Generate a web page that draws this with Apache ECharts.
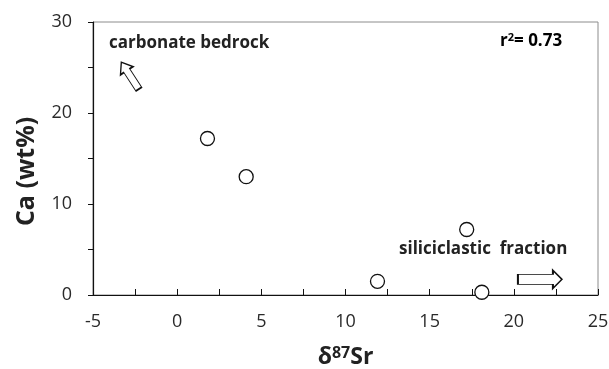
<!DOCTYPE html>
<html>
<head>
<meta charset="utf-8">
<script src="https://cdn.jsdelivr.net/npm/echarts@6/dist/echarts.min.js"></script>
<style>
  html, body { margin: 0; padding: 0; background: #fff; }
  #chart { width: 609px; height: 369px; }
</style>
</head>
<body>
<div id="chart"></div>
<script>
// Sr isotope excursion vs. calcium content of the samples
const srDelta = [1.8, 4.1, 11.9, 17.2, 18.1];
const caWt = [17.2, 13.0, 1.5, 7.2, 0.3];
const xTicks = { min: -5, max: 25, step: 5 };
const yTicks = { min: 0, max: 30, step: 10 };
const rSquared = '0.73';

// Hollow arrows showing end-member directions: [x, y, rotation]
const arrowBedrock = [-2.8, 24.1, 123];
const arrowSilici = [21.55, 1.72, 0];

const FONT = '"Open Sans", "Liberation Sans", sans-serif';
const arrowShort = 'path://M0,4 L22,4 L22,0 L32,7.5 L22,15 L22,11 L0,11 Z';
const arrowLong = 'path://M0,4 L35,4 L35,0 L44,9 L35,18 L35,14 L0,14 Z';

const points = srDelta.map((x, i) => [x, caWt[i]]);

const chart = echarts.init(document.getElementById('chart'), null, { renderer: 'canvas' });
chart.setOption({
  animation: false,
  backgroundColor: '#fff',
  grid: {
    left: 93, right: 11, top: 22, bottom: 74,
    outerBoundsMode: 'none',
    containLabel: false,
    show: true, borderColor: '#8c8c8c', borderWidth: 1
  },
  xAxis: {
    type: 'value',
    min: xTicks.min, max: xTicks.max, interval: xTicks.step,
    name: '{d|δ}{s|87}{d|Sr}',
    nameLocation: 'middle',
    nameGap: 50,
    nameTextStyle: {
      rich: {
        d: { fontFamily: FONT, fontSize: 23, fontWeight: 'bold', color: '#222' },
        s: { fontFamily: FONT, fontSize: 16, fontWeight: 'bold', color: '#222', verticalAlign: 'top', padding: [0, 0, 8, 0] }
      }
    },
    axisLine: { show: true, onZero: false, lineStyle: { color: '#111', width: 1.2 } },
    axisTick: { show: true, inside: true, length: 6, lineStyle: { color: '#111' } },
    minorTick: { show: true, splitNumber: 2, length: 6, lineStyle: { color: '#111' } },
    axisLabel: { fontFamily: FONT, fontSize: 18, color: '#2a2a2a', margin: 18 },
    splitLine: { show: false }
  },
  yAxis: {
    type: 'value',
    min: yTicks.min, max: yTicks.max, interval: yTicks.step,
    name: 'Ca (wt%)',
    nameLocation: 'middle',
    nameGap: 54,
    nameTextStyle: { fontFamily: FONT, fontSize: 25, fontWeight: 'bold', color: '#222', padding: [0, 26, 0, 0] },
    axisLine: { show: true, onZero: false, lineStyle: { color: '#111', width: 1.2 } },
    axisTick: { show: true, inside: false, length: 5, lineStyle: { color: '#111' } },
    minorTick: { show: true, splitNumber: 2, length: 5, lineStyle: { color: '#111' } },
    axisLabel: { fontFamily: FONT, fontSize: 18, color: '#2a2a2a', margin: 21 },
    splitLine: { show: false }
  },
  series: [
    {
      type: 'scatter',
      data: points,
      symbol: 'circle',
      symbolSize: 14,
      itemStyle: { color: '#fff', borderColor: '#111', borderWidth: 1.3, opacity: 1 },
      clip: false,
      z: 5
    },
    {
      type: 'scatter',
      data: [],
      silent: true,
      markPoint: {
        symbolKeepAspect: false,
        label: { show: false },
        itemStyle: { color: '#fff', borderColor: '#111', borderWidth: 1.3 },
        data: [
          { coord: arrowBedrock.slice(0, 2), symbol: arrowShort, symbolSize: [32, 15], symbolRotate: arrowBedrock[2] },
          { coord: arrowSilici.slice(0, 2), symbol: arrowLong, symbolSize: [44, 18], symbolRotate: arrowSilici[2] }
        ]
      }
    }
  ],
  graphic: [
    {
      type: 'text', left: 109, top: 35,
      style: { text: 'carbonate bedrock', font: 'bold 17px ' + FONT, fill: '#222' }
    },
    {
      type: 'text', left: 500, top: 32,
      style: {
        text: '{b|r}{s|2}{b|= ' + rSquared + '}',
        rich: {
          b: { fontFamily: FONT, fontSize: 17, fontWeight: 'bold', color: '#222' },
          s: { fontFamily: FONT, fontSize: 11, fontWeight: 'bold', color: '#222', verticalAlign: 'top', padding: [0, 0, 7, 0] }
        }
      }
    },
    {
      type: 'text', left: 399, top: 241,
      style: { text: 'siliciclastic  fraction', font: 'bold 17px ' + FONT, fill: '#222' }
    }
  ]
});
</script>
</body>
</html>
